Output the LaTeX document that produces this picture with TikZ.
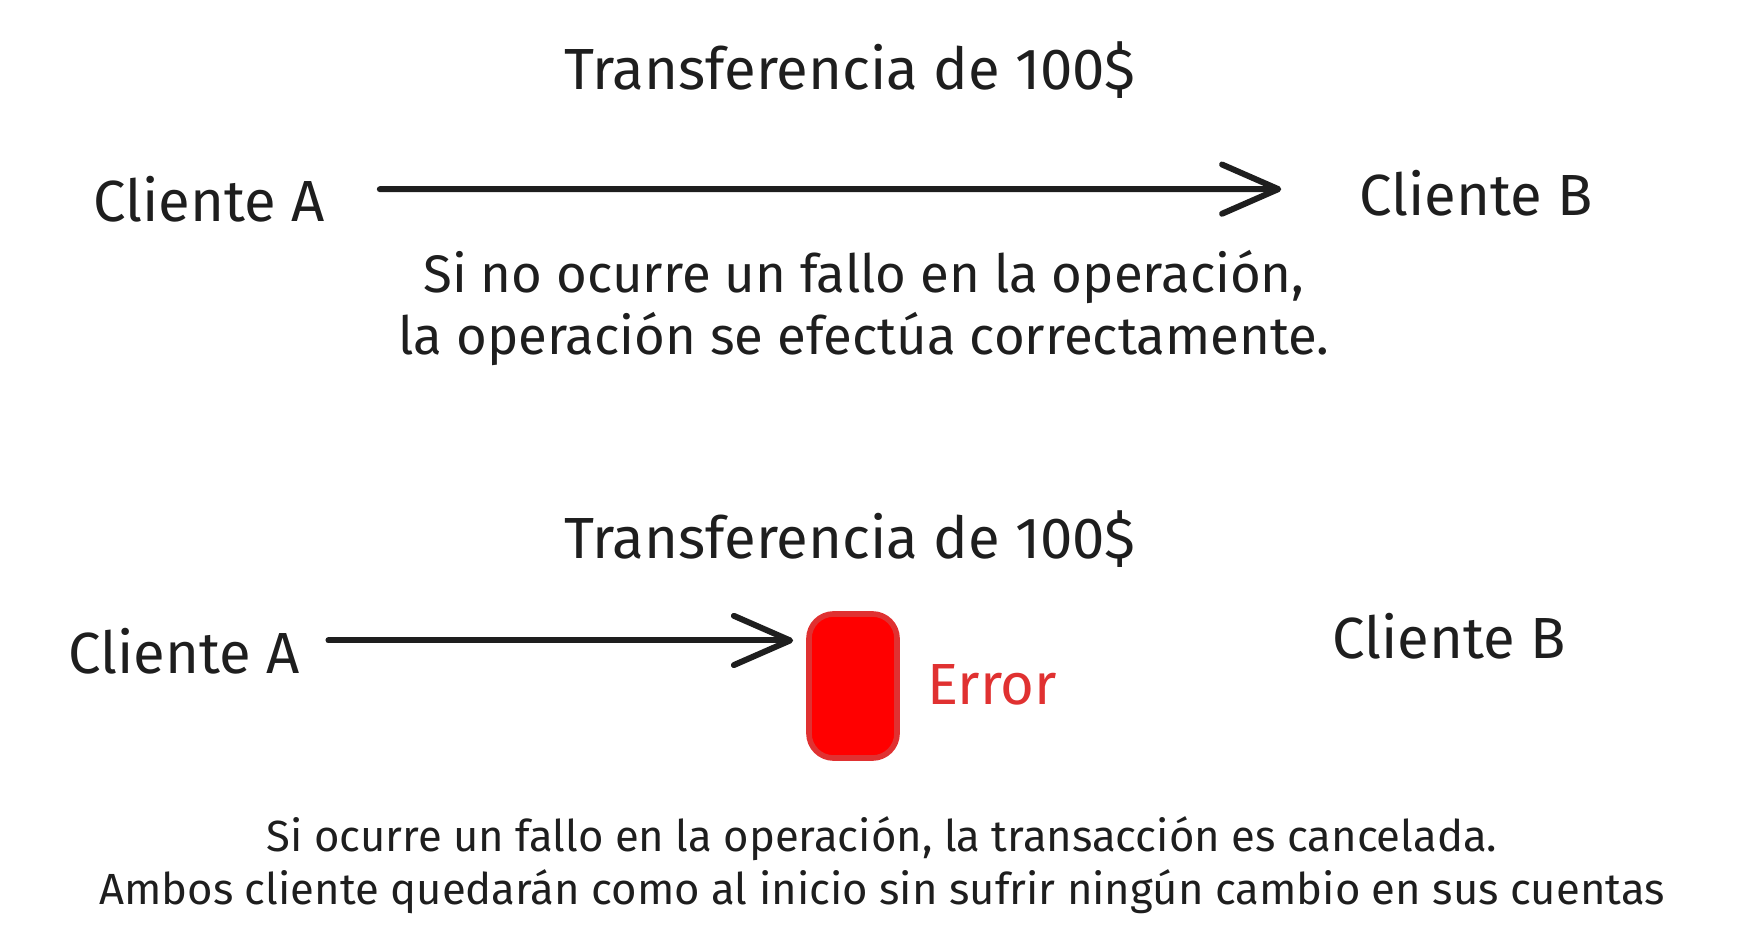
\documentclass[tikz,border=0pt]{standalone}
\usepackage{fontspec}
\setmainfont{Fira Sans}
\usetikzlibrary{arrows.meta}
\definecolor{tinta}{HTML}{1E1E1E}
\definecolor{rojoborde}{HTML}{E03131}
\definecolor{rojorelleno}{HTML}{FF0000}

\begin{document}
\begin{tikzpicture}[x=0.01cm,y=-0.01cm,
    texto/.style={text=tinta,inner sep=0pt,font=\fontsize{16.5}{20}\selectfont},
    nota/.style={text=tinta,inner sep=0pt,align=center,font=\fontsize{15}{17.6}\selectfont},
    notafin/.style={nota,font=\fontsize{12.4}{15}\selectfont},
    flecha/.style={draw=tinta,line width=1.7pt,line cap=round,
      -{Straight Barb[length=16pt,width=14pt,line width=1.7pt,round]}},
    caja/.style={draw=rojoborde,fill=rojorelleno,line width=1.6pt,rounded corners=7pt,
      minimum width=0.88cm,minimum height=1.44cm,inner sep=0pt}]
  \useasboundingbox (0,0) rectangle (1760,952);
  % sin fallo
  \node[texto] (titulo1) at (850,70) {Transferencia de 100\$};
  \node[texto] (clienteA1) at (209,199) {Cliente A};
  \node[texto] (clienteB1) at (1476,193) {Cliente B};
  \node[nota] (nota1) at (864,308) {Si no ocurre un fallo en la operación,\\la operación se efectúa correctamente.};
  \draw[flecha,shorten <=15.5pt,shorten >=22pt]
    ([yshift=2.8pt]clienteA1.east) -- ([yshift=1.1pt]clienteB1.west);
  % con fallo
  \node[texto] (titulo2) at (850,539) {Transferencia de 100\$};
  \node[texto] (clienteA2) at (184,651) {Cliente A};
  \node[texto] (clienteB2) at (1449,636) {Cliente B};
  \node[caja] (fallo) at (853,686) {};
  \node[texto,text=rojoborde] (error) at (992,685) {Error};
  \draw[flecha,shorten <=8pt,shorten >=3.7pt]
    ([yshift=3pt]clienteA2.east) -- ([yshift=3pt]clienteA2.east -| fallo.west);
  \node[notafin] (nota2) at (882,865) {Si ocurre un fallo en la operación, la transacción es cancelada.\\Ambos cliente quedarán como al inicio sin sufrir ningún cambio en sus cuentas};
\end{tikzpicture}
\end{document}
